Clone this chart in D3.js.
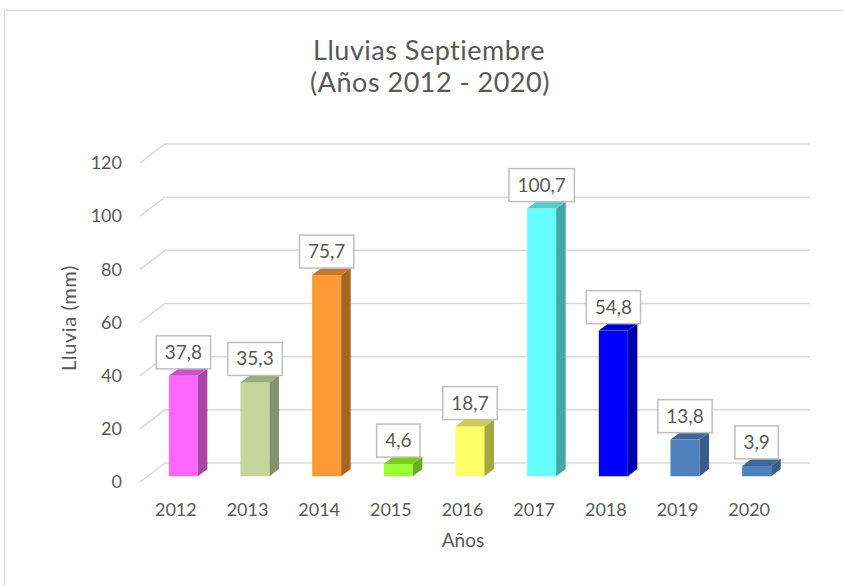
<!DOCTYPE html>
<html>
<head>
<meta charset="utf-8">
<script src="https://cdn.jsdelivr.net/npm/d3@7"></script>
<style>
  body { margin: 0; background: #fff; }
  svg { display: block; font-family: Lato, "Noto Sans", sans-serif; }
  .tick text, .lbl { fill: #595959; }
</style>
</head>
<body>
<svg width="844" height="586"></svg>
<script>
const width = 844,
  height = 586

// datos
const years = ['2012', '2013', '2014', '2015', '2016', '2017', '2018', '2019', '2020']
const lluvia = [37.8, 35.3, 75.7, 4.6, 18.7, 100.7, 54.8, 13.8, 3.9]
const yTicks = [0, 20, 40, 60, 80, 100, 120]

// colores de cada barra: frente, lateral, tapa
const frontColors = ['#ff66ff', '#c4d79b', '#ff9933', '#99ff33', '#ffff66', '#66ffff', '#0000ff', '#4f81bd', '#4f81bd']
const sideColors = ['#a846a8', '#85926a', '#a8651f', '#66b022', '#a8a843', '#44a8a8', '#0000a8', '#385d8a', '#385d8a']
const topColors = ['#cc52cc', '#9dac7c', '#c9782a', '#77cc2a', '#cccc52', '#52cccc', '#0000cc', '#3f6797', '#3f6797']

const es = d3.formatLocale({ decimal: ',', thousands: '.', grouping: [3], currency: ['', '€'] })
const fmt = es.format('.1f')

const svg = d3.select('svg')

// borde del gráfico
svg.append('rect')
  .attr('x', 4.5).attr('y', 10.5)
  .attr('width', 900).attr('height', 700)
  .attr('fill', 'none')
  .attr('stroke', '#d9d9d9')

// perspectiva: vector de profundidad
const depth = { x: 25, y: -19 }
const f0 = 0.3, f1 = 0.68

const x = d3.scaleBand()
  .domain(years)
  .range([140, 785])
  .paddingInner(0.595)
  .paddingOuter(0.2975)

const y = d3.scaleLinear()
  .domain([0, 120])
  .range([482, 163])

// rejilla (pared del fondo + diagonales del suelo)
let grid = svg.append('g')
  .attr('stroke', '#d9d9d9')
  .attr('stroke-width', 1.5)
  .attr('fill', 'none')

grid.selectAll('path')
  .data(yTicks)
  .enter()
    .append('path')
    .attr('d', d => `M140,${y(d)} L${140 + depth.x},${y(d) + depth.y} L${810},${y(d) + depth.y}`)

// eje Y
let yAxis = svg.append('g')
  .attr('transform', 'translate(140,0)')
  .call(d3.axisLeft(y).tickValues(yTicks).tickSize(0).tickPadding(18))
yAxis.select('.domain').remove()
yAxis.selectAll('text')
  .style('font-size', '18px')
  .style('font-family', 'Lato, "Noto Sans", sans-serif')

// eje X
let xAxis = svg.append('g')
  .attr('transform', `translate(0,${y(0)})`)
  .call(d3.axisBottom(x).tickSize(0).tickPadding(21))
xAxis.select('.domain').remove()
xAxis.selectAll('text')
  .style('font-size', '18px')
  .style('font-family', 'Lato, "Noto Sans", sans-serif')

// barras 3D
const dx0 = f0 * depth.x, dy0 = f0 * depth.y
const ddx = (f1 - f0) * depth.x, ddy = (f1 - f0) * depth.y
const bw = x.bandwidth()

let bars = svg.selectAll('g.bar')
  .data(years.map((yr, i) => ({ yr, v: lluvia[i], i })))
  .enter()
    .append('g')
    .attr('class', 'bar')

bars.append('rect')
  .attr('x', d => x(d.yr) + dx0)
  .attr('y', d => y(d.v) + dy0)
  .attr('width', bw)
  .attr('height', d => y(0) - y(d.v))
  .attr('fill', d => frontColors[d.i])

bars.append('path')
  .attr('fill', d => sideColors[d.i])
  .attr('d', d => {
    let xr = x(d.yr) + dx0 + bw, yt = y(d.v) + dy0, yb = y(0) + dy0
    return `M${xr},${yt} L${xr + ddx},${yt + ddy} L${xr + ddx},${yb + ddy} L${xr},${yb} Z`
  })

bars.append('path')
  .attr('fill', d => topColors[d.i])
  .attr('d', d => {
    let xl = x(d.yr) + dx0, yt = y(d.v) + dy0
    return `M${xl},${yt} L${xl + bw},${yt} L${xl + bw + ddx},${yt + ddy} L${xl + ddx},${yt + ddy} Z`
  })

// etiquetas de valor
let labels = svg.selectAll('g.vlabel')
  .data(years.map((yr, i) => ({ yr, v: lluvia[i] })))
  .enter()
    .append('g')
    .attr('class', 'vlabel')
    .attr('transform', d => `translate(${x(d.yr) + dx0 + bw / 2},${y(d.v) + dy0 - 7})`)

labels.append('rect')
  .attr('fill', '#fff')
  .attr('stroke', '#bfbfbf')
  .attr('stroke-width', 1.5)

labels.append('text')
  .attr('class', 'lbl')
  .attr('text-anchor', 'middle')
  .attr('y', -10)
  .style('font-size', '19px')
  .text(d => fmt(d.v))

labels.each(function() {
  let g = d3.select(this)
  let w = g.select('text').node().getComputedTextLength() + 17
  g.select('rect')
    .attr('x', -w / 2)
    .attr('y', -33)
    .attr('width', w)
    .attr('height', 33)
})

// títulos
let title = svg.append('text')
  .attr('class', 'lbl')
  .attr('text-anchor', 'middle')
  .style('font-size', '27px')
  .style('letter-spacing', '0.5px')
title.append('tspan').attr('x', 429).attr('y', 60).text('Lluvias Septiembre')
title.append('tspan').attr('x', 430).attr('y', 92).text('(Años 2012 - 2020)')

svg.append('text')
  .attr('class', 'lbl')
  .attr('text-anchor', 'middle')
  .attr('transform', 'translate(76,318) rotate(-90)')
  .style('font-size', '20px')
  .style('letter-spacing', '0.6px')
  .text('Lluvia (mm)')

svg.append('text')
  .attr('class', 'lbl')
  .attr('text-anchor', 'middle')
  .attr('x', 463)
  .attr('y', 547)
  .style('font-size', '19px')
  .text('Años')
</script>
</body>
</html>
